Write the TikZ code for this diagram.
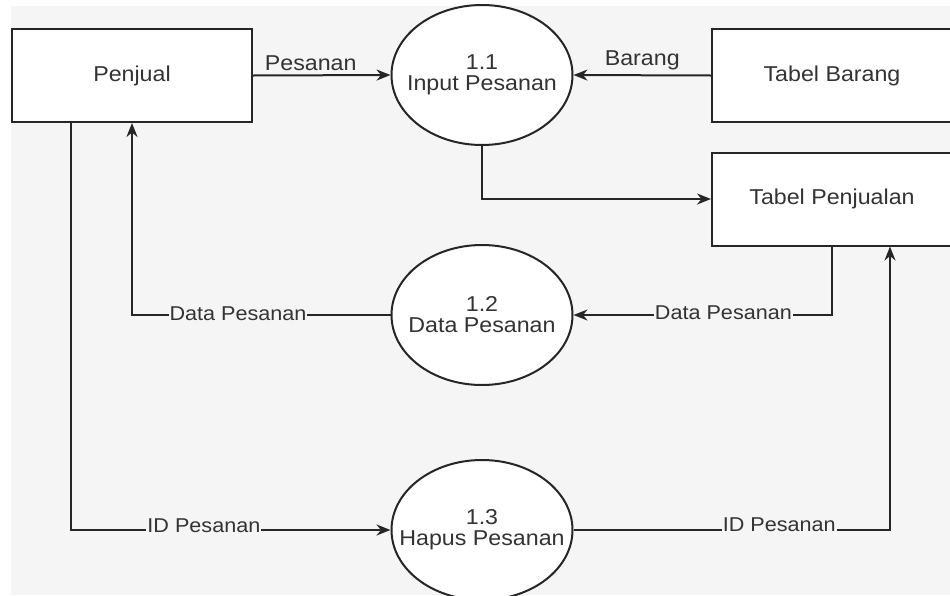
\documentclass[tikz,border=0pt]{standalone}
\usepackage{fontspec}
\setmainfont[FakeStretch=1.08]{Liberation Sans}
\usetikzlibrary{shapes.geometric,arrows.meta,calc}
\definecolor{bg}{HTML}{F5F5F5}
\definecolor{ln}{HTML}{262626}
\definecolor{tx}{HTML}{333333}
\newcommand{\twoline}[2]{\makebox[0pt]{#1}\\\makebox[0pt]{#2}}
\tikzset{
  entity/.style={draw=ln, line width=2pt, fill=white, rectangle, minimum width=240pt, minimum height=93pt, text=tx, font=\fontsize{21.5}{23}\selectfont, inner sep=0pt},
  proc/.style={draw=ln, line width=2pt, fill=white, ellipse, minimum width=181pt, minimum height=140pt, text=tx, align=center, font=\fontsize{21.5}{21}\selectfont, inner sep=0pt},
  flow/.style={draw=ln, line width=2pt, -{Stealth[length=14pt,width=11pt,inset=4.5pt]}},
  lbl/.style={text=tx, font=\fontsize{21.5}{22}\selectfont, inner sep=1pt},
  lblbg/.style={text=tx, font=\fontsize{20}{21}\selectfont, inner sep=1pt, fill=bg}
}
\begin{document}
\begin{tikzpicture}[x=1pt,y=-1pt]
\useasboundingbox (0,0) rectangle (950,595);
\clip (0,0) rectangle (950,595);
\fill[white] (0,0) rectangle (950,595);
\fill[bg] (11,6) rectangle (950,595);

\node[entity] (penjual) at (132,75.5) {Penjual};
\node[proc] (p11) at (482,75) {\twoline{1.1}{Input Pesanan}};
\node[entity] (barang) at (832,75.5) {Tabel Barang};
\node[entity] (penjualan) at (832,199) {Tabel Penjualan};
\node[proc] (p12) at (482,315) {\twoline{1.2}{Data Pesanan}};
\node[proc] (p13) at (482,530) {\twoline{1.3}{Hapus Pesanan}};

\coordinate (pjout) at ($(penjual.south west)+(60,0)$);
\coordinate (tpin) at ($(penjualan.south east)+(-63,0)$);

\draw[flow] (penjual.east) -- node[lbl, above=3pt, pos=0.42] {Pesanan} (p11.west);
\draw[flow] (barang.west) -- node[lbl, above=3pt, pos=0.5] {Barang} (p11.east);
\draw[flow] (p11.south) |- (penjualan.west);
\draw[flow] (penjualan.south) |- node[lblbg, pos=0.71, yshift=2pt] {Data Pesanan} (p12.east);
\draw[flow] (p12.west) -| node[lblbg, pos=0.295, yshift=1pt] {Data Pesanan} (penjual.south);
\draw[flow] (pjout) |- node[lblbg, pos=0.708, yshift=4pt] {ID Pesanan} (p13.west);
\draw[flow] (p13.east) -| node[lblbg, pos=0.325, yshift=5pt] {ID Pesanan} (tpin);
\end{tikzpicture}
\end{document}
